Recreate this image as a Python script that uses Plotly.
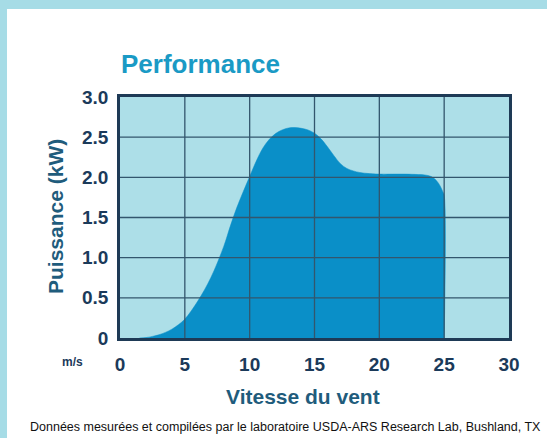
import plotly.graph_objects as go

# ---- data ----
wind_speed = [1.5, 2, 2.5, 3, 3.5, 4, 4.5, 5, 6, 7, 8, 8.5, 9, 9.5, 10, 10.5, 11, 11.5, 12,
              12.5, 13, 13.5, 14, 14.5, 15, 15.5, 16, 16.5, 17, 17.5, 18, 18.5, 19, 20, 21,
              22, 23, 23.5, 24, 24.4, 24.7, 24.9, 25, 25]
power_kw = [0, 0.005, 0.02, 0.04, 0.07, 0.11, 0.165, 0.235, 0.46, 0.75, 1.14, 1.39, 1.62, 1.82,
            2.01, 2.2, 2.36, 2.47, 2.545, 2.59, 2.615, 2.62, 2.61, 2.59, 2.55, 2.48, 2.38, 2.27,
            2.17, 2.11, 2.08, 2.06, 2.05, 2.04, 2.04, 2.04, 2.035, 2.03, 2.01, 1.96, 1.89, 1.82,
            1.78, 0]
x_ticks = [0, 5, 10, 15, 20, 25, 30]
y_ticks = [0, 0.5, 1.0, 1.5, 2.0, 2.5, 3.0]
y_ticktext = ["0", "0.5", "1.0", "1.5", "2.0", "2.5", "3.0"]
x_ticktext = ["0", "5", "10", "15", "20", "25", "30"]

title_text = "Performance"
y_title = "Puissance (kW)"
x_title = "Vitesse du vent"
unit_text = "m/s"
footer_text = "Données mesurées et compilées par le laboratoire USDA-ARS Research Lab, Bushland, TX"

# ---- geometry ----
W, H = 547, 438
L, R, T, B = 120, 38, 97, 100
PW, PH = W - L - R, H - T - B


def px(x):
    return (x - L) / PW


def py(y):
    return (H - B - y) / PH


FONT = "Liberation Sans, Arial, sans-serif"
NAVY = "#1B3A5A"
GRID = "#33566D"
FILL = "#0A8FC8"

fig = go.Figure()
fig.add_trace(go.Scatter(
    x=wind_speed, y=power_kw, mode="lines",
    line=dict(width=0.5, color=FILL, shape="spline", smoothing=1.0),
    fill="tozeroy", fillcolor=FILL, hoverinfo="skip", showlegend=False))

# gridlines drawn above the fill, from tick arrays
gx, gy = [], []
for t in x_ticks[1:-1]:
    gx += [t, t, None]
    gy += [y_ticks[0], y_ticks[-1], None]
for t in y_ticks[1:-1]:
    gx += [x_ticks[0], x_ticks[-1], None]
    gy += [t, t, None]
fig.add_trace(go.Scatter(x=gx, y=gy, mode="lines", line=dict(color=GRID, width=1.3),
                         hoverinfo="skip", showlegend=False))

fig.update_xaxes(range=[0, 30], tickvals=x_ticks, ticktext=x_ticktext, showgrid=False, zeroline=False,
                 showline=True, mirror=True, linecolor="#1E3A56", linewidth=2.5, layer="above traces",
                 ticks="", ticklabelstandoff=7,
                 tickfont=dict(family=FONT, size=19, color=NAVY, weight="bold"), fixedrange=True)
fig.update_yaxes(range=[0, 3], tickvals=y_ticks, ticktext=y_ticktext, showgrid=False, zeroline=False,
                 showline=True, mirror=True, linecolor="#1E3A56", linewidth=2.5, layer="above traces",
                 ticks="", ticklabelstandoff=5,
                 tickfont=dict(family=FONT, size=19, color=NAVY, weight="bold"), fixedrange=True)

annotations = [
    dict(text=title_text, x=px(119), y=py(64), xanchor="left", yanchor="middle",
         font=dict(family=FONT, size=26, color="#1A9AC5", weight="bold")),
    dict(text=y_title, x=px(55), y=py(217), textangle=-90, xanchor="center", yanchor="middle",
         font=dict(family=FONT, size=21, color="#1F5C7C", weight="bold")),
    dict(text=x_title, x=px(303), y=py(396), xanchor="center", yanchor="middle",
         font=dict(family=FONT, size=21, color="#1F5C7C", weight="bold")),
    dict(text=unit_text, x=px(72), y=py(362), xanchor="center", yanchor="middle",
         font=dict(family=FONT, size=12, color=NAVY, weight="bold")),
    dict(text=footer_text, x=px(285), y=py(427), xanchor="center", yanchor="middle",
         font=dict(family=FONT, size=12.5, color="#111111")),
]
for a in annotations:
    a.update(xref="paper", yref="paper", showarrow=False)

FRAME = "#A6DCE6"
shapes = [
    dict(type="rect", xref="paper", yref="paper", x0=px(0), x1=px(W), y0=py(0), y1=py(9),
         fillcolor=FRAME, line=dict(width=0), layer="below"),
    dict(type="rect", xref="paper", yref="paper", x0=px(0), x1=px(7), y0=py(0), y1=py(H),
         fillcolor=FRAME, line=dict(width=0), layer="below"),
]

fig.update_layout(width=W, height=H, margin=dict(l=L, r=R, t=T, b=B, autoexpand=False),
                  paper_bgcolor="white", plot_bgcolor="#ADDFE8", annotations=annotations,
                  shapes=shapes, showlegend=False)

fig.write_html("out.html", config={"displayModeBar": False},
               post_script="document.body.style.margin='0';document.body.style.overflow='hidden';")
